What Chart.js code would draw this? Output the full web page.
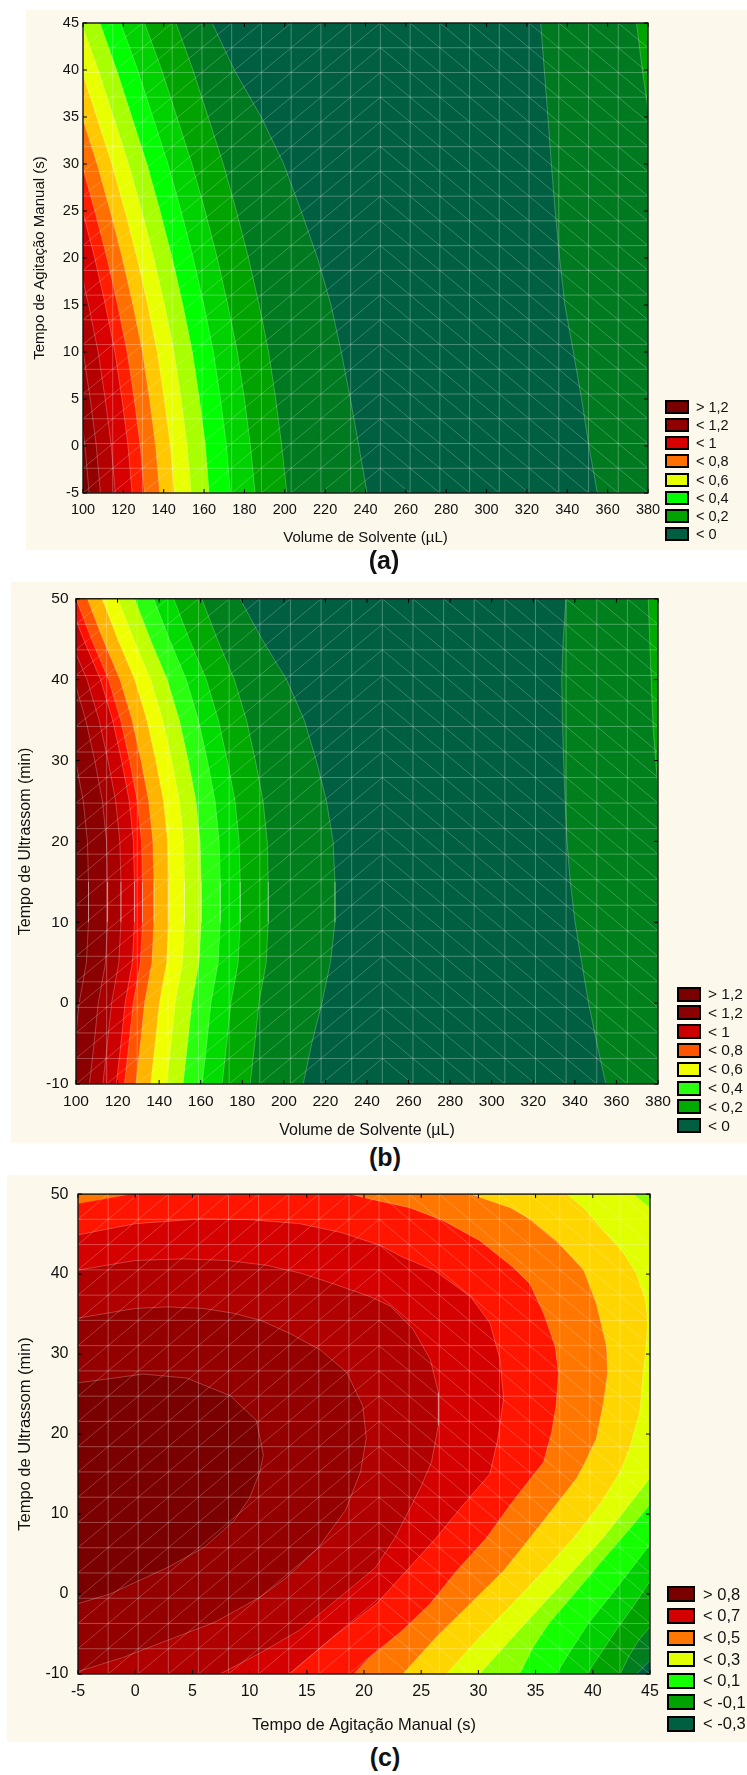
<!DOCTYPE html>
<html>
<head>
<meta charset="utf-8">
<script src="https://cdn.jsdelivr.net/npm/chart.js@4.4.1/dist/chart.umd.min.js"></script>
<style>
  body { margin: 0; background: #fff; width: 747px; height: 1775px; position: relative; overflow: hidden;
         font-family: "Liberation Sans", Arial, sans-serif; }
  .panel { position: absolute; background: #fdf8ec; }
  canvas { position: absolute; left: 0; }
  .lg-item { position: absolute; display: flex; align-items: center; color: #111; white-space: nowrap; }
  .lg-box { box-sizing: border-box; border: 2px solid #000; }
  .tag { position: absolute; font-weight: bold; color: #111; text-align: center; width: 80px; }
</style>
</head>
<body>
<div class="panel" style="left:26px;top:10px;width:721px;height:540px"></div>
<div class="panel" style="left:11px;top:582px;width:736px;height:561px"></div>
<div class="panel" style="left:7px;top:1175px;width:740px;height:567px"></div>
<canvas id="chartA" width="747" height="560" style="top:0px"></canvas>
<canvas id="chartB" width="747" height="561" style="top:582px"></canvas>
<canvas id="chartC" width="747" height="567" style="top:1175px"></canvas>

<script>
// --- (a) Volume de Solvente x Tempo de Agitação Manual ---
const xTicksA = [100, 120, 140, 160, 180, 200, 220, 240, 260, 280, 300, 320, 340, 360, 380];
const yTicksA = [-5, 0, 5, 10, 15, 20, 25, 30, 35, 40, 45];
const levelsA = [0, 0.1, 0.2, 0.3, 0.4, 0.5, 0.6, 0.7, 0.8, 0.9, 1.0, 1.1, 1.2];
const bandColorsA = ['#005f41', '#007a20', '#00a300', '#00d200', '#00ff00', '#a8ff00', '#e8ff00',
                     '#ffc800', '#ff7000', '#ff1e00', '#d80000', '#b30000', '#930000', '#770000'];
const legendLabelsA = ['> 1,2', '< 1,2', '< 1', '< 0,8', '< 0,6', '< 0,4', '< 0,2', '< 0'];
const legendColorsA = ['#7a0000', '#900000', '#d80000', '#ff7000', '#e8ff00', '#00ff00', '#00a300', '#005f41'];
// areas where the response is above the level (painted in this order)
const regionLevelsA = [0, 0.1, 0, 0.1, 0.2, 0.3, 0.4, 0.5, 0.6, 0.7, 0.8, 0.9, 1.0, 1.1, 1.2];
const regionsA = [
  [[326.8,45],[328.6,40],[330.4,35],[332.1,30],[334,25],[336.2,20],[338.8,15],[343,10],[347.1,5],[350.7,0],[354.9,-5],[380,-5],[380,45]],
  [[380,45],[374.3,45],[377.2,40],[380,35.8]],
  [[164,45],[175,40],[188.3,35],[199.5,30],[208.1,25],[216.2,20],[222.9,15],[228,10],[232.5,5],[236.7,0],[240.8,-5],[100,-5],[100,45]],
  [[146,45],[154.5,40],[162,35],[169.5,30],[176,25],[182,20],[187.3,15],[192,10],[195.5,5],[198.5,0],[201,-5],[100,-5],[100,45]],
  [[130.5,45],[139,40],[146.5,35],[154,30],[160.5,25],[166.5,20],[171.8,15],[176.5,10],[180,5],[183,0],[185.3,-5],[100,-5],[100,45]],
  [[118.6,45],[127.1,40],[134.6,35],[142.1,30],[148.6,25],[154.6,20],[159.9,15],[164.6,10],[168.1,5],[171.1,0],[173,-5],[100,-5],[100,45]],
  [[108.4,45],[116.7,40],[124.2,35],[131.7,30],[138.2,25],[144.2,20],[149.5,15],[154.2,10],[157.7,5],[160.7,0],[162.5,-5],[100,-5],[100,45]],
  [[100,44.5],[107.6,40],[115.1,35],[122.6,30],[129.1,25],[135.1,20],[140.4,15],[145.1,10],[148.6,5],[151.6,0],[153.6,-5],[100,-5]],
  [[100,39.5],[106.8,35],[114.3,30],[120.8,25],[126.8,20],[132.1,15],[136.8,10],[140.3,5],[143.3,0],[145.3,-5],[100,-5]],
  [[100,34.7],[107,30],[113.5,25],[119.5,20],[124.8,15],[129.5,10],[133,5],[136,0],[138,-5],[100,-5]],
  [[100,29.5],[105.9,25],[111.9,20],[117.2,15],[121.9,10],[125.4,5],[128.4,0],[130.4,-5],[100,-5]],
  [[100,24.8],[105.8,20],[111.1,15],[115.8,10],[119.3,5],[122.3,0],[124.3,-5],[100,-5]],
  [[100,17.6],[102.8,15],[107.5,10],[111,5],[114,0],[116,-5],[100,-5]],
  [[100,10.1],[103.6,5],[106.6,0],[108.6,-5],[100,-5]],
  [[100,1.7],[101,0],[103,-5],[100,-5]]
];

// --- (b) Volume de Solvente x Tempo de Ultrassom ---
const xTicksB = [100, 120, 140, 160, 180, 200, 220, 240, 260, 280, 300, 320, 340, 360, 380];
const yTicksB = [-10, 0, 10, 20, 30, 40, 50];
const levelsB = [0, 0.1, 0.2, 0.3, 0.4, 0.5, 0.6, 0.7, 0.8, 0.9, 1.0, 1.1, 1.2];
const bandColorsB = ['#005f41', '#00801c', '#00aa00', '#00dc00', '#2aff10', '#c0ff00', '#f0ff00',
                     '#ffb400', '#ff5500', '#ff1000', '#cc0000', '#a80000', '#8b0000', '#760000'];
const legendLabelsB = ['> 1,2', '< 1,2', '< 1', '< 0,8', '< 0,6', '< 0,4', '< 0,2', '< 0'];
const legendColorsB = ['#7a0000', '#8b0000', '#cc0000', '#ff5500', '#f0ff00', '#2aff10', '#00aa00', '#005f41'];
const regionLevelsB = [0, 0.1, 0, 0.1, 0.2, 0.3, 0.4, 0.5, 0.6, 0.7, 0.8, 0.9, 1.0, 1.1, 1.2];
const regionsB = [
  [[335.7,50],[334.4,45],[333.7,40],[334,35],[334.6,30],[335.3,25],[336.2,20],[337.8,15],[340.1,10],[343.3,5],[346.6,0],[350.6,-5],[354.9,-10],[380,-10],[380,50]],
  [[380,50],[375.3,50],[376.4,42],[377.7,33.8],[380,26.5]],
  [[178.9,50],[189.5,45],[201.3,40],[209.8,35],[215.6,30],[220.5,25],[223.7,20],[224.6,15],[224.6,10],[222.4,5],[218.3,0],[213.4,-5],[209.3,-10],[100,-10],[100,50]],
  [[160.5,50],[168,45],[176.2,40],[182,35],[186.3,30],[190,25],[192,20],[192.5,15],[192.5,10],[191.5,5],[188,0],[186,-5],[183.8,-10],[100,-10],[100,50]],
  [[147,50],[154.5,45],[162.7,40],[168.5,35],[172.8,30],[176.5,25],[178.5,20],[179,15],[179,10],[178,5],[174.5,0],[172.5,-5],[170.3,-10],[100,-10],[100,50]],
  [[137.4,50],[144.9,45],[153.1,40],[158.9,35],[163.2,30],[166.9,25],[168.9,20],[169.4,15],[169.4,10],[168.4,5],[164.9,0],[162.9,-5],[160.7,-10],[100,-10],[100,50]],
  [[128.2,50],[135.7,45],[143.9,40],[149.7,35],[154,30],[157.7,25],[159.7,20],[160.2,15],[160.2,10],[159.2,5],[155.7,0],[153.7,-5],[151.5,-10],[100,-10],[100,50]],
  [[120.2,50],[127.7,45],[135.9,40],[141.7,35],[146,30],[149.7,25],[151.7,20],[152.2,15],[152.2,10],[151.2,5],[147.7,0],[145.7,-5],[143.5,-10],[100,-10],[100,50]],
  [[112.6,50],[120.1,45],[128.3,40],[134.1,35],[138.4,30],[142.1,25],[144.1,20],[144.6,15],[144.6,10],[143.6,5],[140.1,0],[138.1,-5],[135.9,-10],[100,-10],[100,50]],
  [[105.5,50],[113,45],[121.2,40],[127,35],[131.3,30],[135,25],[137,20],[137.5,15],[137.5,10],[136.5,5],[133,0],[131,-5],[128.8,-10],[100,-10],[100,50]],
  [[100,50],[107.5,45],[115.7,40],[121.5,35],[125.8,30],[129.5,25],[131.5,20],[132,15],[132,10],[131,5],[127.5,0],[125.5,-5],[123.3,-10],[100,-10]],
  [[100,47.4],[103.6,45],[111.8,40],[117.6,35],[121.9,30],[125.6,25],[127.6,20],[128.1,15],[128.1,10],[127.1,5],[123.6,0],[121.6,-5],[119.4,-10],[100,-10]],
  [[100,43.2],[105.3,40],[111.1,35],[115.4,30],[119.1,25],[121.1,20],[121.6,15],[121.6,10],[120.6,5],[117.1,0],[115.1,-5],[112.9,-10],[100,-10]],
  [[100,39.1],[104.7,35],[109,30],[112.7,25],[114.7,20],[115.2,15],[115.2,10],[114.2,5],[110.7,0],[108.7,-5],[106.5,-10],[100,-10]],
  [[100,29.7],[103.5,25],[105.5,20],[106,15],[106,10],[105,5],[101.5,0],[100,-3.7]]
];

// --- (c) Tempo de Agitação Manual x Tempo de Ultrassom ---
const xTicksC = [-5, 0, 5, 10, 15, 20, 25, 30, 35, 40, 45];
const yTicksC = [-10, 0, 10, 20, 30, 40, 50];
const levelsC = [-0.3, -0.2, -0.1, 0, 0.1, 0.2, 0.3, 0.4, 0.5, 0.6, 0.7, 0.75, 0.8];
const bandColorsC = ['#005f41', '#007d1e', '#00a200', '#00cf00', '#14ff00', '#8cff00', '#e0ff00',
                     '#ffd500', '#ff7700', '#ff1500', '#d50000', '#b00000', '#940000', '#7a0000'];
const legendLabelsC = ['> 0,8', '< 0,7', '< 0,5', '< 0,3', '< 0,1', '< -0,1', '< -0,3'];
const legendColorsC = ['#7a0000', '#d50000', '#ff7700', '#e0ff00', '#14ff00', '#00a200', '#005f41'];
const regionLevelsC = [-0.3, -0.2, -0.1, 0, 0.1, 0.2, 0.3, 0.4, 0.5, 0.6, 0.7, 0.75, 0.8];
const regionsC = [
  [[-5,50],[45,50],[45,-8.3],[44.4,-9.2],[43.8,-10],[-5,-10]],
  [[-5,50],[45,50],[45,-4.1],[44,-5.8],[43.1,-7.9],[42.4,-10],[-5,-10]],
  [[-5,50],[45,50],[45,1.6],[43.6,-1.4],[42,-4.6],[40.7,-7.4],[39.5,-10],[-5,-10]],
  [[-5,50],[45,50],[45,6.2],[43.4,3.2],[41.5,-0.3],[39.6,-3.7],[38.1,-7],[36.8,-10],[-5,-10]],
  [[-5,50],[45,50],[45,11.2],[43.2,8.1],[40.9,4.3],[38.6,0.4],[36.2,-3.6],[34.8,-6.6],[33.6,-10],[-5,-10]],
  [[-5,50],[43.5,50],[45,48.3],[45,14.5],[43.2,11.2],[40.9,7],[38.3,2.9],[35.7,-1.2],[33,-5.4],[30.1,-10],[-5,-10]],
  [[-5,50],[37.7,50],[39.2,48.3],[40.9,45.5],[42.7,42.6],[43.8,40.1],[44.6,36.8],[44.8,33.9],[44.6,30],[44.4,27.7],[44.1,22.7],[43.2,18.2],[42.4,15.3],[40.6,11.2],[38.3,7],[35.7,2.9],[33,-1.2],[30.1,-5.4],[27.2,-10],[-5,-10]],
  [[-5,50],[29.3,50],[32.8,48.3],[34.5,46.9],[36.8,44.2],[39.2,40.5],[40.3,36.4],[41.2,31],[41.3,27.7],[40.9,23.6],[40.3,19.4],[39.2,16.1],[38.6,14.5],[36.8,11.2],[34.5,7],[32.2,2.9],[29.3,-1.2],[26.3,-5.4],[23.4,-10],[-5,-10]],
  [[-0.2,50],[18.8,50],[20.5,49.4],[24,48.3],[26.9,46.7],[30.1,44.2],[33,40.9],[34.5,38.8],[35.7,35.1],[36.7,31],[37,27.7],[36.8,23.6],[36.4,20.2],[35.7,16.5],[34.6,14.5],[32.8,11.2],[30.7,7],[28.1,2.9],[25.8,-1.2],[23.4,-4.5],[20.5,-7.9],[19.1,-10],[-5,-10],[-5,48.8]],
  [[-5,44.9],[0,46.3],[5.7,46.9],[10,46.8],[14.4,46.3],[18,45.2],[21.4,43.6],[23.4,42.1],[26.1,40.5],[29.3,37.2],[31,33.9],[31.9,29.3],[32.2,24.4],[31.7,19.4],[31,15],[28.7,11.2],[26.3,7],[23.7,2.9],[21.1,-1.2],[17.3,-5.4],[13.5,-10],[-5,-10]],
  [[-5,40.5],[0,41.7],[4.2,41.9],[8,41.7],[11.5,41.1],[14.5,40.1],[17.3,38.8],[20.5,37.2],[22.3,36],[24.3,33.1],[25.8,29.3],[26.5,25.2],[26.5,21.1],[25.9,16.5],[25,13.5],[24.2,11.2],[22.7,7],[21,3.3],[17.8,-0.5],[14.4,-4.5],[10.9,-7.4],[7.4,-10],[-5,-10]],
  [[-5,34.5],[0,35.7],[2.8,35.9],[6,35.7],[8.6,35.1],[11,34.2],[13.5,32.6],[16.2,30.5],[18.5,27.7],[19.9,23.5],[20.2,19.5],[19.7,15.3],[18.4,10.5],[16,5.8],[13.2,2],[10.9,-0.4],[7,-3.5],[2.8,-5.8],[-1,-7.9],[-5,-9.7]],
  [[-5,26.4],[0.7,27.5],[4.5,27],[8.3,24.8],[10.6,21.7],[11.2,17.4],[10.9,15.3],[10,12],[8.6,9.1],[6,5.8],[2.8,3.3],[-2.2,0],[-5,-1.2]]
];

// --- LAYOUT (canvas pixels) ---
const panels = [
  { canvas: 'chartA', top: 0, height: 560, area: { left: 83, top: 23, right: 648, bottom: 493 },
    xTicks: xTicksA, yTicks: yTicksA, levels: levelsA, bandColors: bandColorsA,
    regions: regionsA, regionLevels: regionLevelsA,
    xTitle: 'Volume de Solvente (µL)', yTitle: 'Tempo de Agitação Manual (s)',
    tickSize: 14.5, titleSize: 15, xTickPad: 8, yTickPad: 4, xTitlePad: 13, yTitlePad: 31,
    legend: { labels: legendLabelsA, colors: legendColorsA, left: 665, boxW: 24, boxH: 14, firstY: 406.7, step: 18.2, gap: 7, size: 14.5 },
    tag: { text: '(a)', cx: 384, cy: 561 } },
  { canvas: 'chartB', top: 582, height: 561, area: { left: 76, top: 13, right: 658, bottom: 502 },
    xTicks: xTicksB, yTicks: yTicksB, levels: levelsB, bandColors: bandColorsB,
    regions: regionsB, regionLevels: regionLevelsB,
    xTitle: 'Volume de Solvente (µL)', yTitle: 'Tempo de Ultrassom (min)',
    tickSize: 15.5, titleSize: 16, xTickPad: 8.5, yTickPad: 7.5, xTitlePad: 2.5, yTitlePad: 16,
    legend: { labels: legendLabelsB, colors: legendColorsB, left: 677, boxW: 24, boxH: 15, firstY: 994, step: 18.8, gap: 7, size: 15.5 },
    tag: { text: '(b)', cx: 385, cy: 1158 } },
  { canvas: 'chartC', top: 1175, height: 567, area: { left: 78, top: 14, right: 650, bottom: 499 },
    xTicks: xTicksC, yTicks: yTicksC, levels: levelsC, bandColors: bandColorsC,
    regions: regionsC, regionLevels: regionLevelsC,
    xTitle: 'Tempo de Agitação Manual (s)', yTitle: 'Tempo de Ultrassom (min)',
    tickSize: 16, titleSize: 16.5, xTickPad: 8, yTickPad: 9.5, xTitlePad: 7, yTitlePad: 16,
    legend: { labels: legendLabelsC, colors: legendColorsC, left: 667, boxW: 28, boxH: 16, firstY: 1594.3, step: 21.6, gap: 8, size: 16.5 },
    tag: { text: '(c)', cx: 385, cy: 1758 } }
];

const MESH_STEPS = 19;   // statistica triangulation grid
const MESH_SWITCH = 10;  // column where diagonals change direction

// light mesh over the surface, black frame and inward ticks
const meshPlugin = {
  id: 'mesh',
  afterDatasetsDraw(chart) {
    const { ctx, chartArea: a } = chart;
    const sx = chart.scales.x, sy = chart.scales.y;
    const px = [], py = [];
    for (let i = 0; i <= MESH_STEPS; i++) {
      px.push(sx.getPixelForValue(sx.min + (sx.max - sx.min) * i / MESH_STEPS));
      py.push(sy.getPixelForValue(sy.min + (sy.max - sy.min) * i / MESH_STEPS));
    }
    ctx.save();
    ctx.beginPath();
    ctx.rect(a.left, a.top, a.right - a.left, a.bottom - a.top);
    ctx.clip();
    ctx.lineWidth = 1;
    ctx.strokeStyle = 'rgba(255,255,255,0.28)';
    ctx.beginPath();
    px.forEach(x => { ctx.moveTo(x, a.top); ctx.lineTo(x, a.bottom); });
    py.forEach(y => { ctx.moveTo(a.left, y); ctx.lineTo(a.right, y); });
    ctx.stroke();
    ctx.strokeStyle = 'rgba(255,255,255,0.22)';
    ctx.beginPath();
    for (let i = 0; i < MESH_STEPS; i++) {
      for (let j = 0; j < MESH_STEPS; j++) {
        if (i < MESH_SWITCH) { ctx.moveTo(px[i], py[j]); ctx.lineTo(px[i + 1], py[j + 1]); }
        else { ctx.moveTo(px[i], py[j + 1]); ctx.lineTo(px[i + 1], py[j]); }
      }
    }
    ctx.stroke();
    ctx.restore();

    ctx.save();
    ctx.strokeStyle = '#000';
    ctx.lineWidth = 1.3;
    ctx.strokeRect(a.left, a.top, a.right - a.left, a.bottom - a.top);
    ctx.lineWidth = 1;
    ctx.beginPath();
    sx.ticks.forEach(t => {
      const x = sx.getPixelForValue(t.value);
      ctx.moveTo(x, a.bottom); ctx.lineTo(x, a.bottom - 4);
      ctx.moveTo(x, a.top); ctx.lineTo(x, a.top + 4);
    });
    sy.ticks.forEach(t => {
      const y = sy.getPixelForValue(t.value);
      ctx.moveTo(a.left, y); ctx.lineTo(a.left + 4, y);
      ctx.moveTo(a.right, y); ctx.lineTo(a.right - 4, y);
    });
    ctx.stroke();
    ctx.restore();
  }
};

Chart.defaults.font.family = '"Liberation Sans", Arial, sans-serif';

function buildPanel(p) {
  const xMin = p.xTicks[0], xMax = p.xTicks[p.xTicks.length - 1];
  const yMin = p.yTicks[0], yMax = p.yTicks[p.yTicks.length - 1];
  const base = [[xMin, yMax], [xMax, yMax], [xMax, yMin], [xMin, yMin]];
  const polys = [base].concat(p.regions);
  const count = polys.length;

  const datasets = polys.map((poly, i) => {
    const band = i === 0 ? 0 : p.levels.indexOf(p.regionLevels[i - 1]) + 1;
    return {
      data: poly.map(([x, y]) => ({ x, y })),
      showLine: true,
      fill: 'shape',
      backgroundColor: p.bandColors[band],
      borderColor: i === 0 ? 'rgba(0,0,0,0)' : 'rgba(255,255,255,0.3)',
      borderWidth: i === 0 ? 0 : 0.8,
      pointRadius: 0,
      pointHoverRadius: 0,
      tension: 0,
      order: count - i
    };
  });

  new Chart(document.getElementById(p.canvas), {
    type: 'scatter',
    data: { datasets },
    options: {
      responsive: false,
      animation: false,
      devicePixelRatio: 1,
      events: [],
      layout: { padding: { left: 0, top: p.area.top, right: 747 - p.area.right, bottom: 0 } },
      plugins: { legend: { display: false }, tooltip: { enabled: false } },
      scales: {
        x: {
          type: 'linear', min: xMin, max: xMax,
          afterBuildTicks: s => { s.ticks = p.xTicks.map(v => ({ value: v })); },
          afterFit: s => { s.height = p.height - p.area.bottom; },
          grid: { display: false, drawTicks: false },
          border: { display: false },
          ticks: { color: '#111', font: { size: p.tickSize }, padding: p.xTickPad, autoSkip: false, maxRotation: 0 },
          title: { display: true, text: p.xTitle, color: '#111', font: { size: p.titleSize }, padding: { top: 0, bottom: p.xTitlePad } }
        },
        y: {
          type: 'linear', min: yMin, max: yMax,
          afterBuildTicks: s => { s.ticks = p.yTicks.map(v => ({ value: v })); },
          afterFit: s => { s.width = p.area.left; },
          grid: { display: false, drawTicks: false },
          border: { display: false },
          ticks: { color: '#111', font: { size: p.tickSize }, padding: p.yTickPad, autoSkip: false },
          title: { display: true, text: p.yTitle, color: '#111', font: { size: p.titleSize }, padding: { top: p.yTitlePad, bottom: 0 } }
        }
      }
    },
    plugins: [meshPlugin]
  });

  // legend (real text)
  const lg = p.legend;
  lg.labels.forEach((label, k) => {
    const item = document.createElement('div');
    item.className = 'lg-item';
    item.style.left = lg.left + 'px';
    item.style.top = (lg.firstY + k * lg.step - lg.boxH / 2) + 'px';
    item.style.height = lg.boxH + 'px';
    item.style.fontSize = lg.size + 'px';
    const box = document.createElement('div');
    box.className = 'lg-box';
    box.style.width = lg.boxW + 'px';
    box.style.height = lg.boxH + 'px';
    box.style.background = lg.colors[k];
    box.style.marginRight = lg.gap + 'px';
    item.appendChild(box);
    item.appendChild(document.createTextNode(label));
    document.body.appendChild(item);
  });

  const tag = document.createElement('div');
  tag.className = 'tag';
  tag.textContent = p.tag.text;
  tag.style.fontSize = '25px';
  tag.style.lineHeight = '25px';
  tag.style.left = (p.tag.cx - 40) + 'px';
  tag.style.top = (p.tag.cy - 13) + 'px';
  document.body.appendChild(tag);
}

panels.forEach(buildPanel);
</script>
</body>
</html>
